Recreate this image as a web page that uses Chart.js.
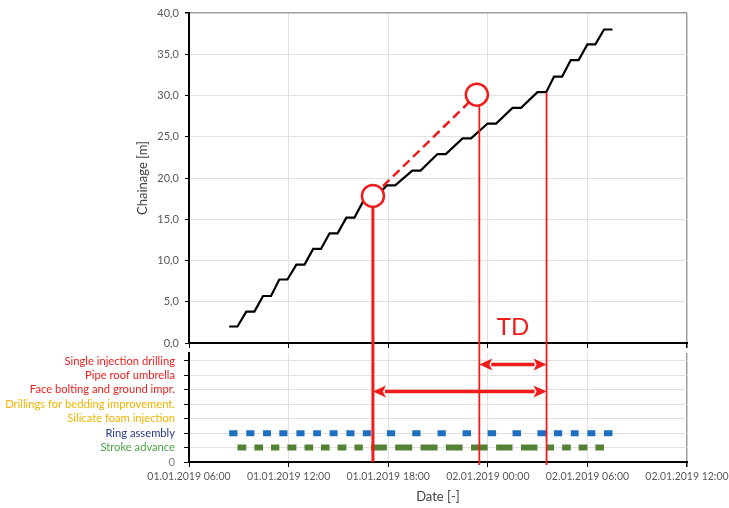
<!DOCTYPE html>
<html><head><meta charset="utf-8">
<script src="https://cdn.jsdelivr.net/npm/chart.js@4/dist/chart.umd.min.js"></script>
<style>
html,body{margin:0;padding:0;background:#fff;}
#wrap{position:relative;width:729px;height:508px;overflow:hidden;background:#fff;}
#topc{position:absolute;left:0;top:0;}
#botc{position:absolute;left:0;top:350px;}
</style></head><body>
<div id="wrap"><canvas id="topc" width="729" height="350"></canvas><canvas id="botc" width="729" height="158"></canvas></div>
<script>
// ---- DATA (hours since 01.01.2019 00:00) ----
const flatStart = [8.42, 9.45, 10.46, 11.44, 12.47, 13.48, 14.47, 15.48, 16.47, 17.92, 19.45, 20.97, 22.48, 23.99, 25.49, 26.99, 27.99, 29.00, 30.00, 31.00];
const flatEnd   = [8.92, 9.94, 10.94, 11.93, 12.96, 13.95, 14.95, 15.97, 16.96, 18.42, 19.95, 21.47, 22.99, 24.50, 26.00, 27.52, 28.48, 29.47, 30.48, 31.51];
const chainage  = [2.0, 3.8, 5.7, 7.7, 9.5, 11.4, 13.3, 15.2, 17.1, 19.1, 20.9, 22.9, 24.8, 26.6, 28.5, 30.4, 32.3, 34.3, 36.2, 38.0];

const circleTimes    = [17.08, 23.34];
const circleChainage = [17.83, 30.1];

const markerTimes    = [17.08, 23.49, 27.54];
const markerTopChain = [17.83, 30.1, 30.4];
const markerBottomRow = [0, -0.2, -0.2];

const arrowFrom = [23.49, 17.08];
const arrowTo   = [27.54, 27.54];
const arrowRow  = [6.75, 4.88];
const tdLabel = 'TD';
const tdLabelChainage = 0.97;

const activities = ['Stroke advance', 'Ring assembly', 'Silicate foam injection', 'Drillings for bedding improvement.', 'Face bolting and ground impr.', 'Pipe roof umbrella', 'Single injection drilling'];
const strokeRow = 1, ringRow = 2;

const xTicks = [6, 12, 18, 24, 30, 36];
const yTicksTop = [0, 5, 10, 15, 20, 25, 30, 35, 40];
const yTicksBottom = [0, 1, 2, 3, 4, 5, 6, 7];

// ---- STYLE ----
const RED = '#f01c1c';
const GRID = '#e2e2e2';
const BORDER = '#a0a0a0';
const TICKTXT = '#595959';
const labelColors = ['#7f7f7f', '#4da349', '#26378a', '#f2b400', '#f2b400', '#f01c1c', '#f01c1c', '#f01c1c'];
Chart.defaults.font.family = "Lato, 'Open Sans', sans-serif";

function fmtDate(h) {
  const day = 1 + Math.floor(h / 24);
  const hh = h - (day - 1) * 24;
  return String(day).padStart(2, '0') + '.01.2019 ' + String(hh).padStart(2, '0') + ':00';
}
function stair() {
  const p = [];
  for (let i = 0; i < chainage.length; i++) { p.push({x: flatStart[i], y: chainage[i]}); p.push({x: flatEnd[i], y: chainage[i]}); }
  return p;
}
function segs(a, b, row) {
  const p = [];
  for (let i = 0; i < a.length; i++) { p.push({x: a[i], y: row}, {x: b[i], y: row}, {x: b[i], y: null}); }
  return p;
}
function noPad(s) { s.paddingTop = 0; s.paddingBottom = 0; s.paddingLeft = 0; s.paddingRight = 0; }

const tdPlugin = {
  id: 'tdtext',
  afterDatasetsDraw(chart) {
    const {ctx, scales: {x, y}} = chart;
    ctx.save();
    ctx.fillStyle = RED;
    ctx.font = "24px Lato, 'Open Sans', sans-serif";
    ctx.textAlign = 'center'; ctx.textBaseline = 'alphabetic';
    ctx.fillText(tdLabel, x.getPixelForValue((arrowFrom[0] + arrowTo[0]) / 2), y.getPixelForValue(tdLabelChainage));
    ctx.restore();
  }
};
const arrowPlugin = {
  id: 'arrows',
  afterDatasetsDraw(chart) {
    const {ctx, scales: {x, y}} = chart;
    ctx.save(); ctx.strokeStyle = RED; ctx.fillStyle = RED; ctx.lineWidth = 3.5;
    for (let i = 0; i < arrowRow.length; i++) {
      const x0 = x.getPixelForValue(arrowFrom[i]), x1 = x.getPixelForValue(arrowTo[i]), py = y.getPixelForValue(arrowRow[i]);
      const hl = 13, hw = 6;
      ctx.beginPath(); ctx.moveTo(x0 + hl - 1, py); ctx.lineTo(x1 - hl + 1, py); ctx.stroke();
      ctx.beginPath(); ctx.moveTo(x0, py); ctx.lineTo(x0 + hl, py - hw); ctx.lineTo(x0 + hl - 3, py); ctx.lineTo(x0 + hl, py + hw); ctx.closePath(); ctx.fill();
      ctx.beginPath(); ctx.moveTo(x1, py); ctx.lineTo(x1 - hl, py - hw); ctx.lineTo(x1 - hl + 3, py); ctx.lineTo(x1 - hl, py + hw); ctx.closePath(); ctx.fill();
    }
    ctx.restore();
  }
};

// ---- TOP CHART ----
const topDatasets = [
  {data: circleTimes.map((t, i) => ({x: t, y: circleChainage[i]})), showLine: false, pointRadius: 11, pointHoverRadius: 11,
   pointBackgroundColor: '#fff', pointBorderColor: RED, pointBorderWidth: 2.5},
  {data: circleTimes.map((t, i) => ({x: t, y: circleChainage[i]})), borderColor: RED, borderWidth: 2.5, borderDash: [9, 5], pointRadius: 0},
];
markerTimes.forEach((t, i) => topDatasets.push({
  data: [{x: t, y: markerTopChain[i]}, {x: t, y: -1}], borderColor: RED, borderWidth: i === 0 ? 3 : 1.8, pointRadius: 0, clip: false
}));
topDatasets.push({data: stair(), borderColor: '#000', borderWidth: 2.2, pointRadius: 0, tension: 0});

new Chart(document.getElementById('topc'), {
  type: 'line',
  data: {datasets: topDatasets},
  plugins: [tdPlugin],
  options: {
    responsive: false, animation: false, devicePixelRatio: 1,
    layout: {autoPadding: false, padding: {left: 0, right: 42, top: 13, bottom: 0}},
    plugins: {legend: {display: false}, tooltip: {enabled: false}},
    scales: {
      x: {type: 'linear', min: xTicks[0], max: xTicks[xTicks.length - 1],
          afterBuildTicks: s => { s.ticks = xTicks.map(v => ({value: v})); },
          ticks: {display: false},
          grid: {color: c => (c.tick && c.tick.value === 36) ? BORDER : GRID, tickColor: '#000', tickLength: 5, lineWidth: c => (c.tick && c.tick.value === 36) ? 1.5 : 1},
          border: {color: '#000', width: 2},
          afterFit: s => { s.height = 7; noPad(s); }},
      y: {type: 'linear', min: 0, max: 40,
          afterBuildTicks: s => { s.ticks = yTicksTop.map(v => ({value: v})); },
          ticks: {callback: v => v.toFixed(1).replace('.', ','), color: TICKTXT, font: {size: 11}, padding: 6},
          grid: {color: c => (c.tick && c.tick.value === 40) ? BORDER : GRID, tickColor: '#000', tickLength: 4, lineWidth: c => (c.tick && c.tick.value === 40) ? 1.5 : 1},
          border: {color: '#000', width: 2},
          title: {display: true, text: 'Chainage [m]', color: '#404040', font: {size: 13}, padding: {top: 135, bottom: 0}},
          afterFit: s => { s.width = 189; noPad(s); }}
    }
  }
});

// ---- BOTTOM CHART ----
const botDatasets = [];
markerTimes.forEach((t, i) => botDatasets.push({
  data: [{x: t, y: 9}, {x: t, y: markerBottomRow[i]}], borderColor: RED, borderWidth: i === 0 ? 3 : 1.8, pointRadius: 0, clip: false
}));
botDatasets.push({data: segs(flatStart, flatEnd, ringRow), borderColor: '#1f6fc1', borderWidth: 6, borderCapStyle: 'butt', pointRadius: 0, spanGaps: false});
botDatasets.push({data: segs(flatEnd.slice(0, -1), flatStart.slice(1), strokeRow), borderColor: '#548235', borderWidth: 6, borderCapStyle: 'butt', pointRadius: 0, spanGaps: false});

new Chart(document.getElementById('botc'), {
  type: 'line',
  data: {datasets: botDatasets},
  plugins: [arrowPlugin],
  options: {
    responsive: false, animation: false, devicePixelRatio: 1,
    layout: {autoPadding: false, padding: {left: 0, right: 42, top: 3, bottom: 0}},
    plugins: {legend: {display: false}, tooltip: {enabled: false}},
    scales: {
      x: {type: 'linear', min: xTicks[0], max: xTicks[xTicks.length - 1],
          afterBuildTicks: s => { s.ticks = xTicks.map(v => ({value: v})); },
          ticks: {callback: v => fmtDate(v), color: TICKTXT, font: {size: 10.5}, padding: 3, maxRotation: 0, autoSkip: false},
          grid: {color: c => (c.tick && c.tick.value === 36) ? BORDER : GRID, tickColor: '#000', tickLength: 5, lineWidth: c => (c.tick && c.tick.value === 36) ? 1.5 : 1},
          border: {color: '#000', width: 2},
          title: {display: true, text: 'Date [-]', color: '#404040', font: {size: 13}, padding: {top: 0, bottom: 3}},
          afterFit: s => { s.height = 46; noPad(s); }},
      y: {type: 'linear', min: 0, max: 7.55,
          afterBuildTicks: s => { s.ticks = yTicksBottom.map(v => ({value: v})); },
          ticks: {callback: v => v === 0 ? '0' : activities[v - 1], color: c => labelColors[c.tick.value] || TICKTXT, font: {size: 11.2}, padding: 9, autoSkip: false},
          grid: {color: GRID, tickColor: '#000', tickLength: 5},
          border: {color: '#000', width: 2},
          afterFit: s => { s.width = 189; noPad(s); }}
    }
  }
});
</script>
</body></html>
